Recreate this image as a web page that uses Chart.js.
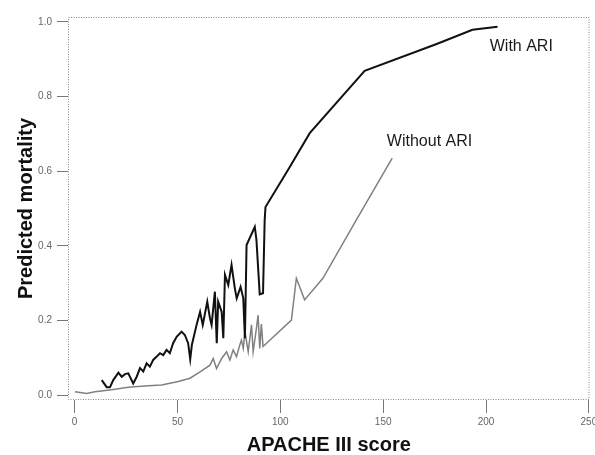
<!DOCTYPE html>
<html>
<head>
<meta charset="utf-8">
<script src="https://cdn.jsdelivr.net/npm/chart.js@4"></script>
<style>
html,body{margin:0;padding:0;background:#fff;}
#wrap{width:595px;height:455px;}
</style>
</head>
<body>
<div id="wrap"><canvas id="mortalityChart" width="595" height="455"></canvas></div>
<script>
// APACHE III score vs predicted mortality
const withAriX = [13.2,15.6,17.2,18.8,21.3,22.9,24.5,26.1,28.5,30.2,31.8,33.4,35,36.6,38.2,39.9,41.5,43.1,44.7,46.3,47.9,49.6,52,53.6,55.2,56.2,57,59.3,61,62.3,64.5,65.8,66.6,68.2,69.1,69.8,71.5,72.3,73.1,74.7,76.3,77.9,78.8,80.7,82,82.8,83.6,87.6,88.4,90,91.6,92.4,92.8,104.6,114.3,141,176,193.4,205.6];
const withAriY = [0.040,0.021,0.021,0.040,0.060,0.049,0.056,0.058,0.031,0.049,0.072,0.063,0.085,0.076,0.094,0.103,0.112,0.107,0.121,0.112,0.139,0.156,0.170,0.161,0.139,0.096,0.134,0.188,0.223,0.188,0.250,0.206,0.188,0.277,0.139,0.250,0.223,0.152,0.322,0.295,0.349,0.286,0.259,0.290,0.259,0.152,0.402,0.451,0.416,0.270,0.273,0.469,0.504,0.611,0.702,0.869,0.941,0.979,0.987];

const withoutAriX = [0.2,5.9,9.9,18,26.1,34,42.3,50.4,56.1,61,65.8,67.4,69,71.5,73.9,75.5,77.1,78.7,80.3,81.1,82,82.8,84.4,86,86.8,88.4,89.2,90,90.8,91.6,92.8,105.4,107.8,111.8,120.7,136.9,154.4];
const withoutAriY = [0.009,0.004,0.009,0.014,0.021,0.024,0.027,0.036,0.045,0.062,0.080,0.098,0.071,0.098,0.116,0.094,0.121,0.103,0.134,0.147,0.125,0.170,0.116,0.188,0.116,0.179,0.214,0.125,0.190,0.130,0.136,0.201,0.313,0.255,0.313,0.469,0.635];

const xTicks = [0,50,100,150,200,250];
const yTicks = [0,0.2,0.4,0.6,0.8,1.0];

const seriesNames = ["With ARI","Without ARI"];

function toPoints(xs, ys){
  return xs.map((x,i)=>({x:x, y:ys[i]}));
}

// dotted frame round the plot
const framePlugin = {
  id:"frame",
  afterDatasetsDraw(chart){
    const a = chart.chartArea, ctx = chart.ctx;
    ctx.save();
    ctx.strokeStyle = "#888";
    ctx.lineWidth = 1;
    ctx.setLineDash([1,1.5]);
    ctx.strokeRect(a.left+0.5, a.top+0.5, a.right-a.left-1, a.bottom-a.top-1);
    ctx.restore();
  }
};

// text labels next to the curves
const curveLabels = {
  id:"curveLabels",
  afterDatasetsDraw(chart){
    const ctx = chart.ctx, xs = chart.scales.x, ys = chart.scales.y;
    const spots = [[201.8,0.923],[151.8,0.668]];
    ctx.save();
    ctx.font = "16px 'Liberation Sans', Arial, sans-serif";
    ctx.fillStyle = "#1a1a1a";
    ctx.textAlign = "left";
    ctx.textBaseline = "alphabetic";
    seriesNames.forEach((name,i)=>{
      ctx.fillText(name, xs.getPixelForValue(spots[i][0]), ys.getPixelForValue(spots[i][1]));
    });
    ctx.restore();
  }
};

const tickFont = {family:"'Liberation Sans', Arial, sans-serif", size:10};
const titleFont = {family:"'Liberation Sans', Arial, sans-serif", size:20, weight:"bold", lineHeight:1};

new Chart(document.getElementById("mortalityChart"),{
  type:"scatter",
  data:{
    datasets:[{
      label:seriesNames[0],
      data:toPoints(withAriX, withAriY),
      showLine:true,
      borderColor:"#111",
      borderWidth:2,
      pointRadius:0,
      tension:0
    },{
      label:seriesNames[1],
      data:toPoints(withoutAriX, withoutAriY),
      showLine:true,
      borderColor:"#808080",
      borderWidth:1.5,
      pointRadius:0,
      tension:0
    }]
  },
  options:{
    responsive:false,
    animation:false,
    events:[],
    layout:{padding:{top:17,right:5.5,left:0,bottom:0}},
    plugins:{legend:{display:false},tooltip:{enabled:false}},
    scales:{
      x:{
        type:"linear",
        min:-3.2,
        max:250.3,
        afterBuildTicks(scale){ scale.ticks = xTicks.map(v=>({value:v})); },
        afterFit(scale){ scale.height = 55; scale.paddingLeft = 0; scale.paddingRight = 0; },
        grid:{drawOnChartArea:false, drawTicks:true, tickLength:13, color:"#777"},
        border:{display:false},
        ticks:{font:tickFont, color:"#666", padding:3, maxRotation:0,
          callback:(v)=>String(v)},
        title:{display:true, text:"APACHE III score", font:titleFont, color:"#111", padding:{top:0,bottom:0}}
      },
      y:{
        type:"linear",
        min:-0.0134,
        max:1.0134,
        afterBuildTicks(scale){ scale.ticks = yTicks.map(v=>({value:v})); },
        afterFit(scale){ scale.width = 68; scale.paddingTop = 0; scale.paddingBottom = 0; },
        grid:{drawOnChartArea:false, drawTicks:true, tickLength:11, color:"#777"},
        border:{display:false},
        ticks:{font:tickFont, color:"#666", padding:5,
          callback:(v)=>Number(v).toFixed(1)},
        title:{display:true, text:"Predicted mortality", font:titleFont, color:"#111", padding:{top:16,bottom:0}}
      }
    }
  },
  plugins:[framePlugin, curveLabels]
});
</script>
</body>
</html>
